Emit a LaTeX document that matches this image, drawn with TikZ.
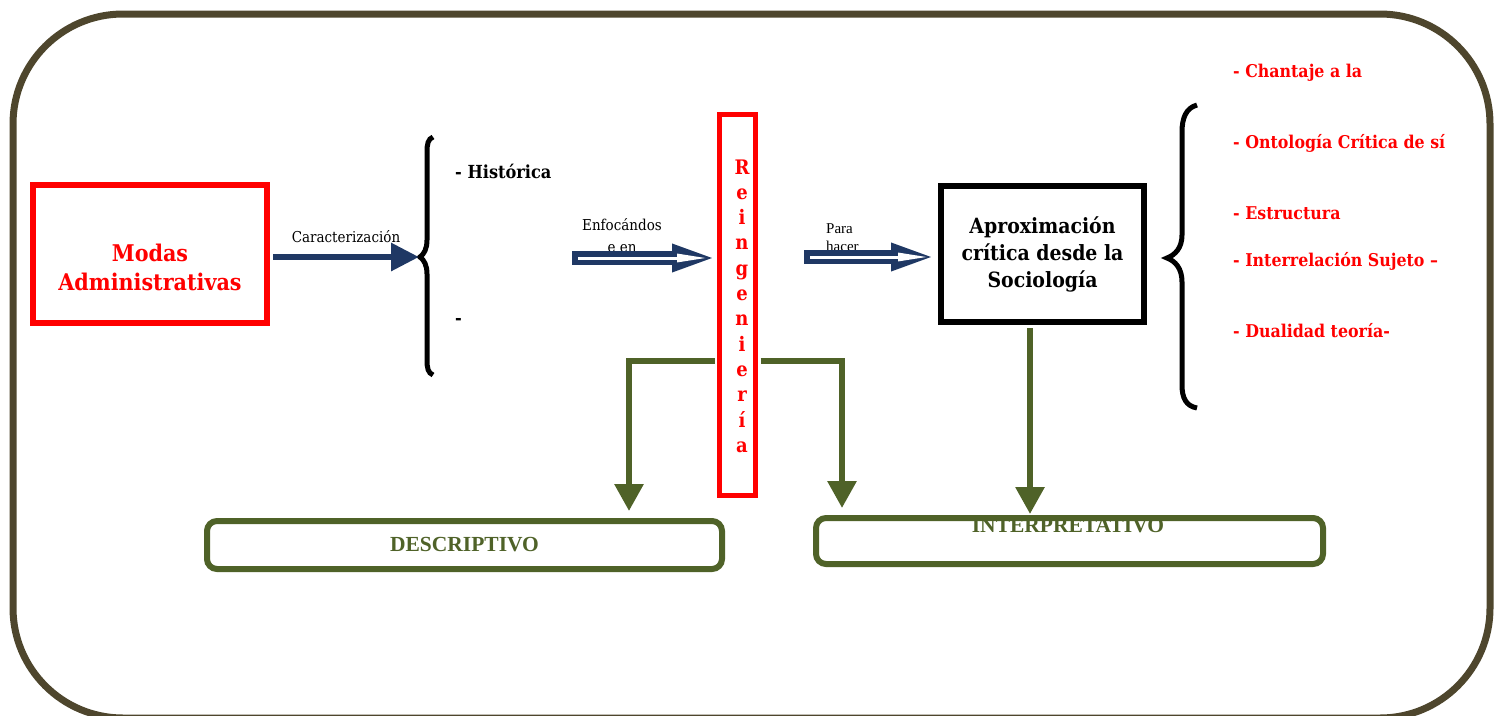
\documentclass[tikz,border=0pt]{standalone}
\usepackage{fontspec}
\setmainfont{Liberation Serif}
\newfontfamily\cambria{DejaVu Serif Condensed}
\usetikzlibrary{arrows.meta}

\definecolor{marco}{RGB}{78,70,45}
\definecolor{azul}{RGB}{31,56,100}
\definecolor{oliva}{RGB}{79,98,40}

\tikzstyle{every node}=[inner sep=0pt]
\tikzstyle{caja}=[draw, line width=6pt, align=center]
\tikzstyle{cajaroja}=[caja, draw=red, text=red]
\tikzstyle{cajaverde}=[caja, draw=oliva, rounded corners=10pt]
\tikzstyle{verdetxt}=[text=oliva, font={\bfseries\fontsize{21.5}{24}\selectfont}]
\tikzstyle{titulo}=[align=center, font={\cambria\bfseries\fontsize{23}{29}\selectfont}]
\tikzstyle{lista}=[anchor=west, text=red, font={\cambria\bfseries\fontsize{17.6}{20}\selectfont}]
\tikzstyle{chico}=[font={\cambria\fontsize{15}{22}\selectfont}]
\tikzstyle{flecha}=[azul, line width=6pt, -{Triangle[length=28pt, width=27pt]}]
\tikzstyle{hueca}=[azul, line width=14pt, -{Triangle[length=44pt, width=25pt]}]
\tikzstyle{huecablanca}=[white, line width=3pt, -{Triangle[length=30pt, width=8pt]}]
\tikzstyle{rama}=[oliva, line width=6pt, -{Triangle[length=27pt, width=28pt]}]
\tikzstyle{llave}=[line width=5pt]

\begin{document}
\begin{tikzpicture}[x=1pt, y=-1pt]
\useasboundingbox (0,0) rectangle (1503,715);
% marco exterior
\draw[marco, line width=7pt, rounded corners=110pt] (13,14) rectangle (1490,718);

% cajas
\node[cajaroja, minimum width=234pt, minimum height=138pt] (modas) at (150,254) {};
\node[titulo, text=red] (modastxt) at (150,267) {Modas\\Administrativas};
\node[cajaroja, line width=5pt, minimum width=36pt, minimum height=381pt] (reing) at (737.5,305) {};
\node[titulo, text=red, font={\cambria\bfseries\fontsize{20}{25.3}\selectfont}] (reingtxt) at (742,306)
    {R\\e\\i\\n\\g\\e\\n\\i\\e\\r\\í\\a};
\node[caja, titulo, draw=black, minimum width=203pt, minimum height=136pt,
    font={\cambria\bfseries\fontsize{21}{27}\selectfont}] (aprox) at (1042.5,254)
    {Aproximación\\crítica desde la\\Sociología};
\node[cajaverde, minimum width=515pt, minimum height=48pt] (desc) at (464.5,545) {};
\node[verdetxt] (desctxt) at (desc.center) {DESCRIPTIVO};
\node[verdetxt] (interptxt) at (1068,526) {INTERPRETATIVO};
\node[cajaverde, minimum width=507pt, minimum height=46pt] (interp) at (1069.5,541) {};

% llaves
\draw[llave] (433,137) .. controls (428,139) and (427,144) .. (427,152) -- (427,240)
    .. controls (427,249) and (424,254) .. (420,257) .. controls (424,260) and (427,265) .. (427,274)
    -- (427,360) .. controls (427,368) and (428,373) .. (433,375);
\coordinate (punta1) at (419,257);
\draw[llave] (1197,105) .. controls (1186,108) and (1182,118) .. (1182,132) -- (1182,235)
    .. controls (1182,248) and (1175,255) .. (1167,258) .. controls (1175,261) and (1182,268) .. (1182,282)
    -- (1182,385) .. controls (1182,398) and (1186,406) .. (1197,408);

% textos
\node[font={\cambria\bfseries\fontsize{18}{22}\selectfont}, anchor=west] (hist) at (455,171) {- Histórica};
\node[font={\cambria\bfseries\fontsize{18}{22}\selectfont}, anchor=west] (guion) at (455,321) {-};
\node[lista] (l1) at (1233,73) {- Chantaje a la};
\node[lista] (l2) at (1233,143) {- Ontología Crítica de sí};
\node[lista] (l3) at (1233,213) {- Estructura};
\node[lista] (l4) at (1233,261) {- Interrelación Sujeto –};
\node[lista] (l5) at (1233,331) {- Dualidad teoría-};
\node[chico] (carac) at (346,237) {Caracterización};
\node[chico, align=center] (enfoc) at (622,236) {Enfocándos\\e en};
\node[font={\fontsize{15}{18}\selectfont}, align=left, anchor=west] (para) at (826,238) {Para\\hacer};

% flechas
\coordinate (ini1) at (572,258);
\coordinate (ini2) at (804,257);
\draw[flecha] ([xshift=3pt,yshift=-3pt]modas.east) -- (punta1);
\draw[hueca] (ini1) -- ([xshift=-1pt,yshift=47pt]reing.west);
\draw[huecablanca] ([xshift=6pt]ini1) -- ([xshift=-10pt,yshift=47pt]reing.west);
\draw[hueca] (ini2) -- ([xshift=-3pt,yshift=-3pt]aprox.west);
\draw[huecablanca] ([xshift=6pt]ini2) -- ([xshift=-10pt,yshift=-3pt]aprox.west);

% ramas
\draw[rama] ([xshift=-2.5pt,yshift=-56pt]reing.west) -| ([xshift=164.5pt,yshift=7pt]desc.north);
\draw[rama] ([xshift=2.5pt,yshift=-56pt]reing.east) -| ([xshift=-227.5pt,yshift=7pt]interp.north);
\draw[rama] ([xshift=-12.5pt,yshift=-3pt]aprox.south) -- ([xshift=-39.5pt,yshift=1pt]interp.north);
\end{tikzpicture}
\end{document}
